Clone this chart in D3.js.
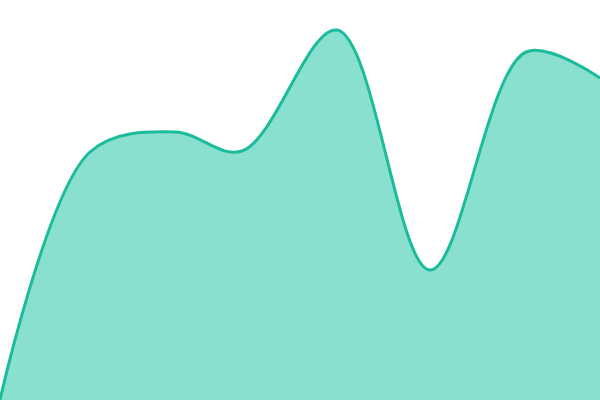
<!DOCTYPE html>
<html><head><meta charset="utf-8">
<script src="https://cdn.jsdelivr.net/npm/d3@7"></script>
<style>html,body{margin:0;padding:0;background:#fff;}svg{display:block;}</style>
</head><body>
<svg id="c" width="600" height="400"></svg>
<script>
const xValues = [0, 90, 175, 242, 337, 430, 526, 600];
const yValues = [0, 248, 268, 249, 370, 130, 348, 322];

const W = 600, H = 400;
const svg = d3.select("#c");
const x = d3.scaleLinear().domain([0, 600]).range([0, W]);
const y = d3.scaleLinear().domain([0, 400]).range([H, 0]);
const data = xValues.map((v, i) => ({x: v, y: yValues[i]}));

const curve = d3.curveCatmullRom.alpha(0.5);
const area = d3.area().curve(curve)
  .x(d => x(d.x)).y0(y(0)).y1(d => y(d.y));
const line = d3.line().curve(curve)
  .x(d => x(d.x)).y(d => y(d.y));

svg.append("path").datum(data).attr("d", area).attr("fill", "#8ae0cf");
svg.append("path").datum(data).attr("d", line).attr("fill", "none")
  .attr("stroke", "#1abc9c").attr("stroke-width", 3);
</script>
</body></html>
